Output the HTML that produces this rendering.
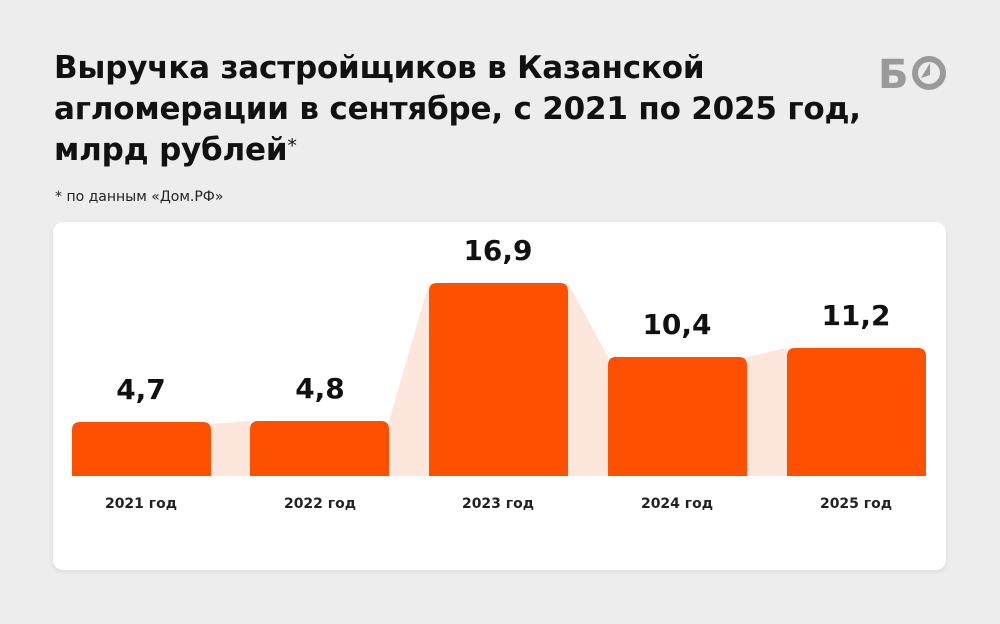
<!DOCTYPE html>
<html><head><meta charset="utf-8"><style>
body{margin:0;width:1000px;height:624px;background:#ededed;font-family:"DejaVu Sans","Liberation Sans",sans-serif;overflow:hidden;position:relative}
.t{position:absolute;left:54px;top:48px;font-size:31px;font-weight:bold;line-height:41px;color:#111;white-space:nowrap;letter-spacing:-0.2px}
.t sup{font-size:19px;vertical-align:top;position:relative;top:-4px;font-weight:normal}
.f{position:absolute;left:55px;top:189px;font-size:14px;color:#222}
.card{position:absolute;left:53px;top:222px;width:893px;height:348px;background:#fff;border-radius:10px;box-shadow:0 2px 4px rgba(0,0,0,0.08)}
</style></head><body>
<div class="t">Выручка застройщиков в Казанской<br>агломерации в сентябре, с 2021 по 2025 год,<br>млрд рублей<sup>*</sup></div>
<div class="f">* по данным «Дом.РФ»</div>
<svg style="position:absolute;left:878px;top:50px" width="72" height="44" viewBox="0 0 72 44">
<text x="0" y="38" font-family="DejaVu Sans" font-weight="bold" font-size="40" fill="#9a9a9a">Б</text>
<circle cx="51" cy="23" r="14" fill="none" stroke="#9a9a9a" stroke-width="6"/>
<path d="M52 13 L52 25 L43 28 Z" fill="#9a9a9a"/>
</svg>
<div class="card"></div>
<svg style="position:absolute;left:0;top:0" width="1000" height="624">
<g fill="#fde6dc">
<polygon points="211,424 250,421 250,476 211,476"/>
<polygon points="389,421 429,283 429,476 389,476"/>
<polygon points="568,283 608,357 608,476 568,476"/>
<polygon points="747,357 787,348 787,476 747,476"/>
</g>
<g fill="#fd5000">
<path d="M72,476 V430 Q72,422 80,422 H203 Q211,422 211,430 V476 Z"/>
<path d="M250,476 V429 Q250,421 258,421 H381 Q389,421 389,429 V476 Z"/>
<path d="M429,476 V291 Q429,283 437,283 H560 Q568,283 568,291 V476 Z"/>
<path d="M608,476 V365 Q608,357 616,357 H739 Q747,357 747,365 V476 Z"/>
<path d="M787,476 V356 Q787,348 795,348 H918 Q926,348 926,356 V476 Z"/>
</g>
<g font-family="DejaVu Sans" font-weight="bold" font-size="28" fill="#111" text-anchor="middle">
<text x="141" y="399">4,7</text>
<text x="320" y="398">4,8</text>
<text x="498" y="260">16,9</text>
<text x="677" y="334">10,4</text>
<text x="856" y="325">11,2</text>
</g>
<g font-family="DejaVu Sans" font-weight="bold" font-size="14" fill="#222" text-anchor="middle">
<text x="141" y="508">2021 год</text>
<text x="320" y="508">2022 год</text>
<text x="498" y="508">2023 год</text>
<text x="677" y="508">2024 год</text>
<text x="856" y="508">2025 год</text>
</g>
</svg>
</body></html>
